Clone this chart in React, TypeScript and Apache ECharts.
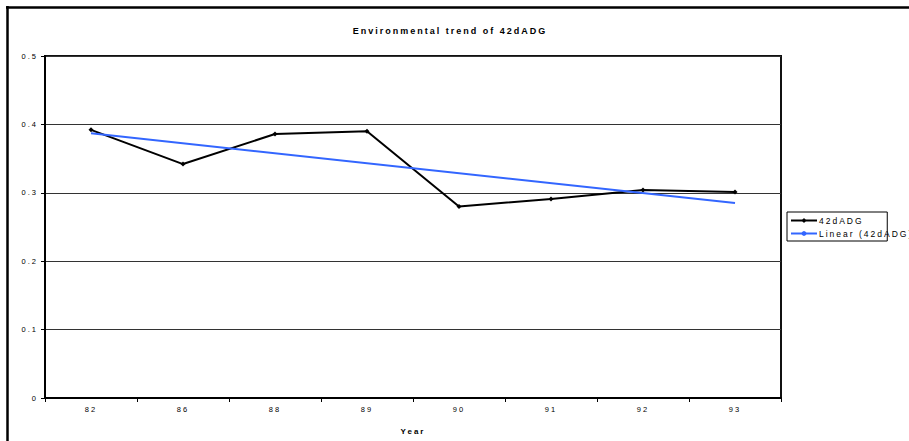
import React, { useEffect, useRef } from "react";
import * as echarts from "echarts";

const categories = ["82", "86", "88", "89", "90", "91", "92", "93"];
const adgValues = [0.392, 0.342, 0.386, 0.39, 0.28, 0.291, 0.304, 0.301];
const trendPoints: [string, number][] = [
  ["82", 0.387],
  ["93", 0.285],
];
const yTicks = [0, 0.1, 0.2, 0.3, 0.4, 0.5];

export default function App() {
  const ref = useRef<HTMLDivElement>(null);
  useEffect(() => {
    if (!ref.current) return;
    const chart = echarts.init(ref.current, undefined, { renderer: "svg" });
    const font = "Liberation Sans, Arial, sans-serif";
    chart.setOption({
      animation: false,
      backgroundColor: "#fff",
      textStyle: { fontFamily: font },
      title: {
        text: "Environmental trend of 42dADG",
        left: 445,
        top: 21,
        textAlign: "center",
        textStyle: { fontSize: 9, fontWeight: "bold", color: "#000", fontFamily: font },
      },
      grid: {
        left: 45,
        top: 56,
        width: 736,
        height: 342,
        show: true,
        borderColor: "#111",
        borderWidth: 2,
        backgroundColor: "#fff",
      },
      legend: {
        orient: "vertical",
        left: 787,
        top: 212,
        borderColor: "#000",
        borderWidth: 1,
        borderRadius: 0,
        padding: [4, 4, 3, 3],
        itemGap: 4,
        itemWidth: 26,
        itemHeight: 6,
        textStyle: { fontSize: 8.5, color: "#000", fontFamily: font, padding: [0, 0, 0, -3] },
        data: ["42dADG", "Linear (42dADG)"],
      },
      xAxis: {
        type: "category",
        data: categories,
        boundaryGap: true,
        name: "Year",
        nameLocation: "middle",
        nameGap: 29,
        nameTextStyle: { fontSize: 8, fontWeight: "bold", color: "#000", fontFamily: font },
        axisLine: { lineStyle: { color: "#000", width: 2 } },
        axisTick: { show: true, length: 4, inside: false, lineStyle: { color: "#000", width: 1 } },
        axisLabel: { fontSize: 7.5, color: "#000", margin: 7, fontFamily: font },
        splitLine: { show: false },
      },
      yAxis: {
        type: "value",
        min: yTicks[0],
        max: yTicks[yTicks.length - 1],
        interval: 0.1,
        axisLine: { show: true, lineStyle: { color: "#000", width: 2 } },
        axisTick: { show: true, length: 4, lineStyle: { color: "#000", width: 1 } },
        axisLabel: { fontSize: 7.5, color: "#000", margin: 7, fontFamily: font },
        splitLine: { show: true, lineStyle: { color: "#333", width: 1 } },
      },
      series: [
        {
          name: "42dADG",
          type: "line",
          data: adgValues,
          color: "#000",
          lineStyle: { color: "#000", width: 2 },
          symbol: "diamond",
          symbolSize: 5,
          itemStyle: { color: "#000" },
          z: 3,
        },
        {
          name: "Linear (42dADG)",
          type: "line",
          data: trendPoints,
          color: "#3366ff",
          lineStyle: { color: "#3366ff", width: 2 },
          symbol: "none",
          z: 4,
        },
      ],
      graphic: [
        {
          type: "line",
          shape: { x1: 6, y1: 7.5, x2: 909, y2: 7.5 },
          style: { stroke: "#000", lineWidth: 2.5 },
          silent: true,
        },
        {
          type: "line",
          shape: { x1: 7.5, y1: 6, x2: 7.5, y2: 441 },
          style: { stroke: "#000", lineWidth: 2.5 },
          silent: true,
        },
      ],
    });
    return () => chart.dispose();
  }, []);
  return (
    <div
      ref={ref}
      style={{
        position: "fixed",
        left: 0,
        top: 0,
        width: 909,
        height: 441,
        letterSpacing: "2px",
        background: "#fff",
      }}
    />
  );
}
